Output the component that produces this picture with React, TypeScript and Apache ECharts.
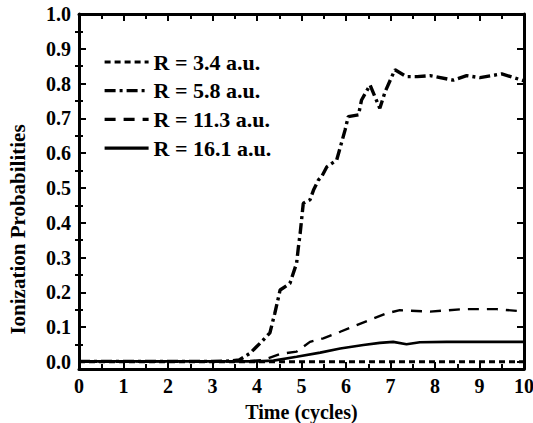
import React, { useEffect, useRef } from "react";
import * as echarts from "echarts";

const seriesNames = ["R = 3.4 a.u.", "R = 5.8 a.u.", "R = 11.3 a.u.", "R = 16.1 a.u."];

const r34: [number, number][] = [[0, 0.001], [2, 0.001], [4, 0.001], [6, 0.001], [8, 0.001], [10, 0.001]];
const r58: [number, number][] = [
  [0, 0.002], [1, 0.002], [2, 0.002], [3, 0.002], [3.4, 0.003], [3.6, 0.006], [3.84, 0.025], [4.1, 0.058],
  [4.29, 0.084], [4.4, 0.14], [4.52, 0.207], [4.74, 0.226], [4.89, 0.284], [4.93, 0.33], [4.97, 0.37],
  [5.04, 0.456], [5.19, 0.466], [5.27, 0.494], [5.38, 0.523], [5.45, 0.532], [5.57, 0.561], [5.79, 0.58],
  [5.98, 0.667], [6.05, 0.705], [6.28, 0.71], [6.35, 0.753], [6.54, 0.796], [6.76, 0.729], [6.88, 0.777],
  [7.1, 0.84], [7.36, 0.82], [7.6, 0.82], [7.89, 0.823], [8.41, 0.81], [8.71, 0.823], [9.01, 0.817],
  [9.5, 0.828], [10, 0.808],
];
const r113: [number, number][] = [
  [0, 0.002], [3, 0.002], [3.8, 0.003], [4.14, 0.006], [4.52, 0.023], [4.89, 0.03], [5.19, 0.058],
  [5.49, 0.068], [5.87, 0.087], [6.24, 0.106], [6.54, 0.121], [6.91, 0.14], [7.21, 0.149], [7.89, 0.145],
  [8.64, 0.152], [9.39, 0.152], [10, 0.145],
];
const r161: [number, number][] = [
  [0, 0.002], [3, 0.002], [4, 0.002], [4.37, 0.004], [4.89, 0.015], [5.42, 0.027], [5.87, 0.039],
  [6.39, 0.049], [6.76, 0.055], [7.06, 0.058], [7.36, 0.051], [7.66, 0.057], [8.26, 0.058], [10, 0.058],
];

const yMajor = [0, 0.1, 0.2, 0.3, 0.4, 0.5, 0.6, 0.7, 0.8, 0.9, 1.0];
const yMinor = [0.05, 0.15, 0.25, 0.35, 0.45, 0.55, 0.65, 0.75, 0.85, 0.95];

const FONT = "'Times New Roman', 'Liberation Serif', serif";

export default function App() {
  const ref = useRef<HTMLDivElement>(null);
  useEffect(() => {
    if (!ref.current) return;
    const chart = echarts.init(ref.current, undefined, { renderer: "svg" });
    const axisLine = { show: true, onZero: false, lineStyle: { color: "#000", width: 3 } };
    const yBase = { type: "value", min: -0.02, max: 1.0, splitLine: { show: false } };
    chart.setOption({
      animation: false,
      backgroundColor: "#fff",
      color: ["#000", "#000", "#000", "#000"],
      grid: { left: 79, right: 9, top: 14, bottom: 54, outerBoundsMode: "none", containLabel: false },
      legend: {
        orient: "vertical",
        left: 98,
        top: 46,
        itemWidth: 44,
        itemHeight: 20,
        itemGap: 6.7,
        data: seriesNames,
        itemStyle: { color: "rgba(0,0,0,0)", borderWidth: 0, opacity: 0 },
        lineStyle: { width: 3.2 },
        textStyle: { fontFamily: FONT, fontWeight: "bold", fontSize: 22, color: "#000" },
      },
      xAxis: [
        {
          type: "value", min: 0, max: 10, interval: 1, position: "bottom",
          axisLine, splitLine: { show: false },
          axisTick: { inside: true, length: 7, lineStyle: { width: 2, color: "#000" } },
          minorTick: { show: true, splitNumber: 2, length: 5, lineStyle: { width: 2, color: "#000" } },
          axisLabel: { fontFamily: FONT, fontWeight: "bold", fontSize: 20, color: "#000", margin: 7 },
          name: "Time (cycles)", nameLocation: "middle", nameGap: 33,
          nameTextStyle: { fontFamily: FONT, fontWeight: "bold", fontSize: 20, color: "#000" },
        },
        {
          type: "value", min: 0, max: 10, interval: 1, position: "top",
          axisLine, splitLine: { show: false },
          axisTick: { inside: true, length: 7, lineStyle: { width: 2, color: "#000" } },
          minorTick: { show: true, splitNumber: 2, length: 5, lineStyle: { width: 2, color: "#000" } },
          axisLabel: { show: false },
        },
      ],
      yAxis: [
        {
          ...yBase, position: "left", axisLine,
          axisTick: { inside: true, length: 7, customValues: yMajor, lineStyle: { width: 2, color: "#000" } },
          axisLabel: {
            customValues: yMajor, fontFamily: FONT, fontWeight: "bold", fontSize: 20, color: "#000", margin: 8,
            formatter: (v: number) => v.toFixed(1),
          },
          name: "Ionization Probabilities", nameLocation: "middle", nameGap: 51,
          nameTextStyle: { fontFamily: FONT, fontWeight: "bold", fontSize: 21, color: "#000", padding: [0, 76, 0, 0] },
        },
        {
          ...yBase, position: "left", axisLine: { show: false },
          axisTick: { inside: true, length: 4, customValues: yMinor, lineStyle: { width: 2, color: "#000" } },
          axisLabel: { show: false },
        },
        {
          ...yBase, position: "right", axisLine,
          axisTick: { inside: true, length: 7, customValues: yMajor, lineStyle: { width: 2, color: "#000" } },
          axisLabel: { show: false },
        },
        {
          ...yBase, position: "right", axisLine: { show: false },
          axisTick: { inside: true, length: 4, customValues: yMinor, lineStyle: { width: 2, color: "#000" } },
          axisLabel: { show: false },
        },
      ],
      series: [
        { name: seriesNames[0], type: "line", data: r34, symbol: "none", lineStyle: { color: "#000", width: 3, type: [6, 4] } },
        { name: seriesNames[1], type: "line", data: r58, symbol: "none", lineStyle: { color: "#000", width: 3.4, type: [11, 4, 3, 4] } },
        { name: seriesNames[2], type: "line", data: r113, symbol: "none", lineStyle: { color: "#000", width: 2.4, type: [11, 8] } },
        { name: seriesNames[3], type: "line", data: r161, symbol: "none", lineStyle: { color: "#000", width: 2.6, type: "solid" } },
      ],
    });
    return () => chart.dispose();
  }, []);
  return <div ref={ref} style={{ position: "fixed", left: 0, top: 0, width: 533, height: 423 }} />;
}
